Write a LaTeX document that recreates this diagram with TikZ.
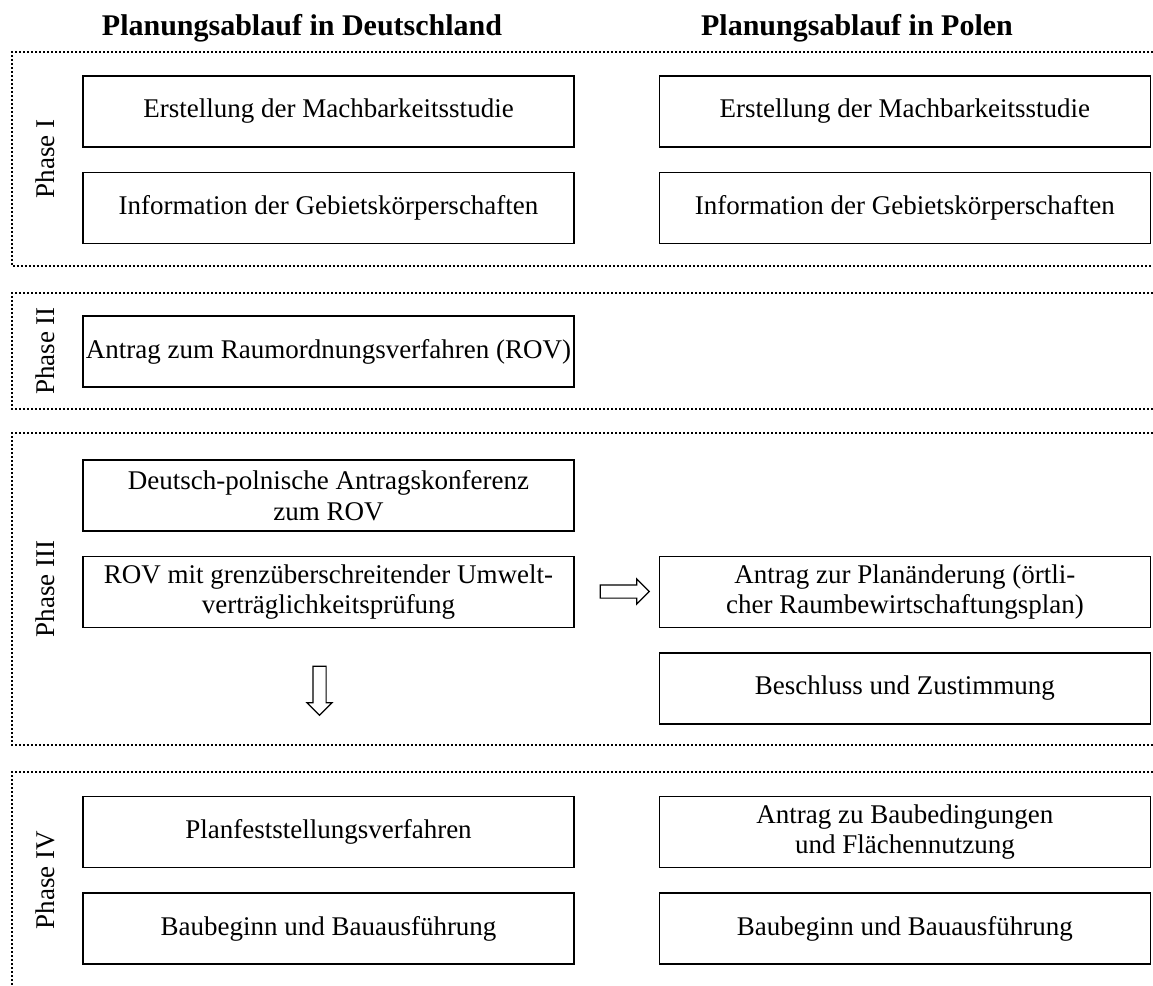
\documentclass[tikz,border=0pt]{standalone}
\usepackage{fontspec}
\setmainfont{Liberation Serif}
\usetikzlibrary{positioning, shapes.arrows}
\newcommand{\bodyfont}{\fontsize{27}{30.5}\selectfont}
\newcommand{\headfont}{\fontsize{30}{34}\selectfont\bfseries}
\tikzset{
  stepbox/.style={rectangle, draw=black, line width=1.4pt, minimum width=491pt,
    minimum height=71pt, inner sep=2pt, align=center, font=\bodyfont},
  heading/.style={anchor=base, inner sep=0pt, font=\headfont},
  phaselabel/.style={rotate=90, inner sep=0pt, font=\bodyfont},
  phaseframe/.style={line width=1.8pt, dash pattern=on 1.8pt off 2.2pt},
  blockarrow/.style={single arrow, draw=black, line width=1.2pt, inner sep=6pt,
    minimum height=49pt, single arrow head extend=6pt}
}
\begin{document}
\begin{tikzpicture}[x=1pt, y=-1pt, node distance=24pt and 84pt]
\useasboundingbox (0,0) rectangle (1153,985);

% headings
\node (hde) [heading] at (302,35) {Planungsablauf in Deutschland};
\node (hpl) [heading] at (857,35) {Planungsablauf in Polen};

% phase frames
\draw[phaseframe] (1153,52) -- (12,52) -- (12,266) -- (1153,266);
\draw[phaseframe] (1153,293) -- (12,293) -- (12,409) -- (1153,409);
\draw[phaseframe] (1153,433) -- (12,433) -- (12,745) -- (1153,745);
\draw[phaseframe] (1153,772) -- (12,772) -- (12,985);

\node (ph1) [phaselabel] at (45,159) {Phase I};
\node (ph2) [phaselabel] at (45,351) {Phase II};
\node (ph3) [phaselabel] at (45,589) {Phase III};
\node (ph4) [phaselabel] at (45,880) {Phase IV};

% Phase I
\node (dmach) [stepbox] at (328.5,111.5) {Erstellung der Machbarkeitsstudie};
\node (dinfo) [stepbox, below=of dmach] {Information der Gebietskörperschaften};
\node (pmach) [stepbox, right=of dmach] {Erstellung der Machbarkeitsstudie};
\node (pinfo) [stepbox, right=of dinfo] {Information der Gebietskörperschaften};

% Phase II
\node (drov)  [stepbox] at (328.5,351.5) {Antrag zum Raumordnungsverfahren (ROV)};

% Phase III
\node (dkonf) [stepbox] at (328.5,495.5) {Deutsch-polnische Antragskonferenz\\zum ROV};
\node (duvp)  [stepbox, below=of dkonf] {ROV mit grenzüberschreitender Umwelt-\\verträglichkeitsprüfung};
\node (pplan) [stepbox, right=of duvp] {Antrag zur Planänderung (örtli-\\cher Raumbewirtschaftungsplan)};
\node (pbeschl) [stepbox, below=of pplan] {Beschluss und Zustimmung};
\node (arrr) [blockarrow] at (621.5,591.5) {};
\node (arrd) [blockarrow, rotate=-90] at (319.5,687.5) {};

% Phase IV
\node (dpfv)  [stepbox] at (328.5,832) {Planfeststellungsverfahren};
\node (dbau)  [stepbox, below=of dpfv] {Baubeginn und Bauausführung};
\node (pbed)  [stepbox, right=of dpfv] {Antrag zu Baubedingungen\\und Flächennutzung};
\node (pbau)  [stepbox, right=of dbau] {Baubeginn und Bauausführung};
\end{tikzpicture}
\end{document}
